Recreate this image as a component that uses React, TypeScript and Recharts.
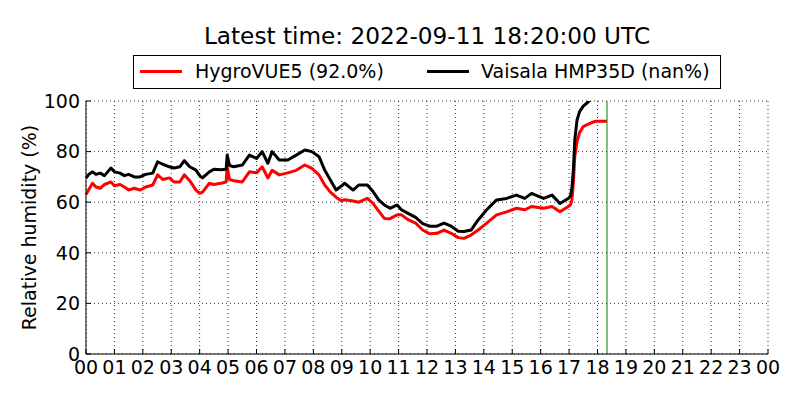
import React from 'react';
import { LineChart, Line, XAxis, YAxis, CartesianGrid, ReferenceLine } from 'recharts';

// time of day in hours (UTC)
const hours = [
  0.0, 0.1, 0.23, 0.35, 0.5, 0.65, 0.88, 1.0, 1.2, 1.35, 1.5, 1.7, 1.9, 2.1, 2.35, 2.52, 2.7, 2.93,
  3.1, 3.3, 3.46, 3.65, 3.87, 4.0, 4.1, 4.34, 4.5, 4.75, 4.93, 4.97, 5.05, 5.2, 5.5, 5.75, 6.0, 6.2,
  6.4, 6.55, 6.8, 7.1, 7.4, 7.7, 7.95, 8.2, 8.4, 8.6, 8.8, 9.0, 9.1, 9.4, 9.6, 9.9, 10.1, 10.3, 10.5,
  10.7, 10.95, 11.1, 11.35, 11.6, 11.85, 12.1, 12.35, 12.6, 12.85, 13.1, 13.3, 13.55, 13.8, 14.1,
  14.45, 14.8, 15.15, 15.44, 15.68, 16.1, 16.4, 16.68, 16.97, 17.05, 17.1, 17.15, 17.2, 17.28, 17.37,
  17.5, 17.66, 17.8, 17.95, 18.1, 18.3333,
];

// HygroVUE5 relative humidity (%)
const hygroVUE5 = [
  63, 65, 67.5, 66, 65.5, 67, 68, 66.5, 67, 66, 64.8, 65.5, 64.8, 66, 66.8, 70.8, 69, 69.6,
  68, 68, 70.8, 68.5, 64.8, 63.5, 64, 67.5, 67, 67.5, 68, 74, 69, 68.5, 68, 72, 71.6, 74,
  69.6, 72.6, 70.8, 71.6, 72.6, 74.7, 73.4, 70.8, 66.8, 64, 62, 60.5, 61, 60.5, 60, 61.5, 59.5, 56.5, 53.6,
  53.5, 55, 55, 53, 51.7, 49, 47.5, 47.7, 49, 47.7, 46, 45.7, 47, 49, 51.7,
  55, 56.2, 57.6, 57, 58.3, 57.6, 58.3, 56.2, 58.3, 59, 60.9, 67.5, 78, 84, 87.5,
  89.9, 90.8, 91.5, 92, 92, 92,
];

// Vaisala HMP35D relative humidity (%)
const vaisala = [
  69.5, 71, 72, 71, 71.5, 70.5, 73.5, 72, 71.5, 70.5, 71, 70, 70, 71, 71.5, 76, 75, 74,
  73.5, 74, 76.4, 74, 72.7, 70.5, 69.6, 72, 73, 72.8, 73, 78.6, 74.5, 74, 74.7, 78.6, 77.3, 80,
  75.4, 80, 76.7, 76.7, 78.6, 80.6, 80, 78, 72.7, 68.8, 64.8, 66.5, 67.5, 64.8, 66.8, 66.8, 64.2, 60.9, 58.9,
  57.6, 58.9, 57, 55.5, 54, 51.5, 50.5, 50.5, 51.7, 50.5, 48.5, 48.4, 49, 53, 57,
  60.9, 61.5, 62.8, 61.5, 63.5, 61.5, 62.8, 59.5, 61.5, 62.5, 65.6, 72.7, 84.6, 92.5, 95.8,
  98, 99.5, 101, 102, null, null,
];

const xTicks = [0, 1, 2, 3, 4, 5, 6, 7, 8, 9, 10, 11, 12, 13, 14, 15, 16, 17, 18, 19, 20, 21, 22, 23, 24];
const yTicks = [0, 20, 40, 60, 80, 100];
const latestHour = 18 + 20 / 60;
const titleText = 'Latest time: 2022-09-11 18:20:00 UTC';
const legendHygro = 'HygroVUE5 (92.0%)';
const legendVaisala = 'Vaisala HMP35D (nan%)';
const yLabel = 'Relative humidity (%)';

const data = hours.map((h, i) => ({ h, hygro: hygroVUE5[i], vaisala: vaisala[i] }));

const pad2 = (v: number) => String(v % 24).padStart(2, '0');

export default function App() {
  const font = 'DejaVu Sans, sans-serif';
  return (
    <div
      style={{
        position: 'absolute',
        left: 0,
        top: 0,
        width: 800,
        height: 400,
        background: '#fff',
        fontFamily: font,
        overflow: 'hidden',
      }}
    >
      <div
        style={{
          position: 'absolute',
          left: 0,
          width: 854,
          top: 22,
          textAlign: 'center',
          fontSize: 23.2,
          lineHeight: '28px',
          color: '#000',
          whiteSpace: 'nowrap',
        }}
      >
        {titleText}
      </div>
      <div
        style={{
          position: 'absolute',
          left: 133,
          top: 55,
          width: 586,
          height: 32,
          border: '1px solid #000',
          background: '#fff',
          zIndex: 2,
          fontSize: 19,
          color: '#000',
        }}
      >
        <div style={{ position: 'absolute', left: 6, top: 14, width: 42, height: 3, background: '#ff0000' }} />
        <div style={{ position: 'absolute', left: 61, top: 3, lineHeight: '24px', whiteSpace: 'nowrap' }}>{legendHygro}</div>
        <div style={{ position: 'absolute', left: 293, top: 14, width: 42, height: 3, background: '#000' }} />
        <div style={{ position: 'absolute', left: 347, top: 3, lineHeight: '24px', whiteSpace: 'nowrap' }}>{legendVaisala}</div>
      </div>
      <LineChart width={800} height={400} data={data} margin={{ top: 101, right: 32, bottom: 0, left: 26 }}>
        <CartesianGrid stroke="#000" strokeDasharray="1 3" strokeWidth={0.8} />
        <XAxis
          dataKey="h"
          type="number"
          domain={[0, 24]}
          ticks={xTicks}
          tickFormatter={pad2}
          interval={0}
          height={46}
          tickSize={-5}
          tickMargin={12}
          axisLine={{ stroke: '#000', strokeWidth: 1 }}
          tickLine={{ stroke: '#000' }}
          tick={{ fill: '#000', fontSize: 19 }}
        />
        <XAxis
          xAxisId="top"
          orientation="top"
          dataKey="h"
          type="number"
          domain={[0, 24]}
          ticks={xTicks}
          interval={0}
          height={0}
          tickSize={-5}
          tickFormatter={() => ''}
          axisLine={{ stroke: '#000', strokeWidth: 1 }}
          tickLine={{ stroke: '#000' }}
        />
        <YAxis
          type="number"
          domain={[0, 100]}
          ticks={yTicks}
          allowDataOverflow
          interval={0}
          width={60}
          tickSize={-5}
          tickMargin={11}
          axisLine={{ stroke: '#000', strokeWidth: 1 }}
          tickLine={{ stroke: '#000' }}
          tick={{ fill: '#000', fontSize: 19 }}
          label={{ value: yLabel, angle: -90, position: 'center', dx: -27, fill: '#000', fontSize: 19 }}
        />
        <YAxis
          yAxisId="right"
          orientation="right"
          type="number"
          domain={[0, 100]}
          ticks={yTicks}
          interval={0}
          width={0}
          tickSize={-5}
          tickFormatter={() => ''}
          axisLine={{ stroke: '#000', strokeWidth: 1 }}
          tickLine={{ stroke: '#000' }}
        />
        <Line
          type="linear"
          dataKey="hygro"
          stroke="#ff0000"
          strokeWidth={3}
          dot={false}
          isAnimationActive={false}
          strokeLinejoin="round"
        />
        <Line
          type="linear"
          dataKey="vaisala"
          stroke="#000000"
          strokeWidth={3}
          dot={false}
          isAnimationActive={false}
          strokeLinejoin="round"
        />
        <ReferenceLine x={latestHour} stroke="#008000" strokeWidth={1} />
      </LineChart>
    </div>
  );
}
